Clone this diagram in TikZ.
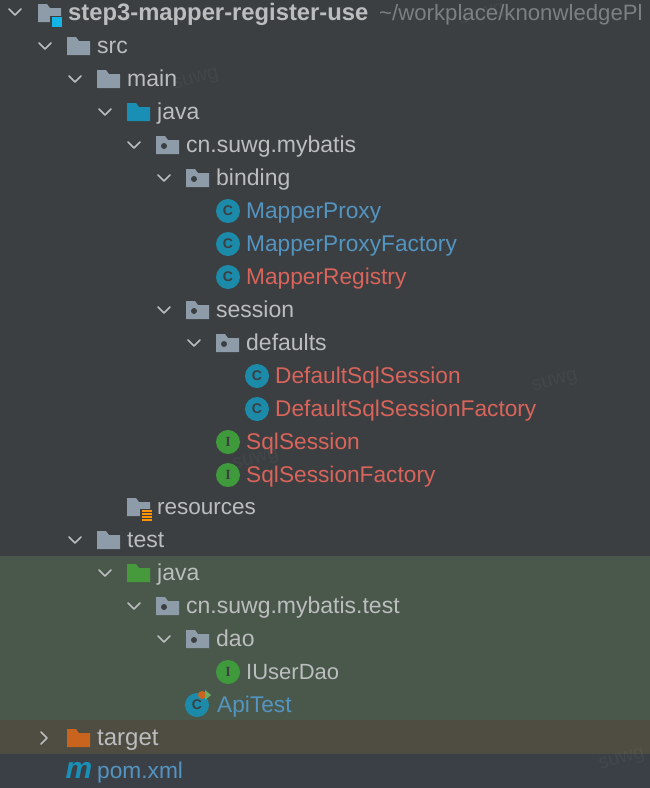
\documentclass[tikz,border=0pt]{standalone}
\usepackage{fontspec}
\setmainfont{Liberation Sans}
\newfontfamily\serifletter{Liberation Serif}
\definecolor{panelbg}{HTML}{3C3F41}
\definecolor{testbg}{HTML}{4A584C}
\definecolor{targetbg}{HTML}{4F4C42}
\definecolor{pombg}{HTML}{3B4047}
\definecolor{plaintext}{HTML}{BBBDBE}
\definecolor{bluetext}{HTML}{5394C0}
\definecolor{redtext}{HTML}{D9645B}
\definecolor{pathtext}{HTML}{7D8082}
\definecolor{foldergrey}{HTML}{8D9CA8}
\definecolor{foldercyan}{HTML}{1A8FB5}
\definecolor{foldergreen}{HTML}{469A3C}
\definecolor{folderorange}{HTML}{C8641E}
\definecolor{classteal}{HTML}{1C8BAA}
\definecolor{ifacegreen}{HTML}{3F9A3C}
\definecolor{modulecyan}{HTML}{12B5E6}
\tikzset{
  treetext/.style={anchor=base west, inner sep=0pt, yshift=1pt, font=\fontsize{23}{26}\selectfont, text=plaintext},
  bluelabel/.style={treetext, font=\fontsize{22.7}{26}\selectfont, text=bluetext},
  redlabel/.style={treetext, font=\fontsize{22.7}{26}\selectfont, text=redtext},
  chevron/.style={draw=plaintext, line width=1.5pt, line cap=round, line join=round},
  iconletter/.style={inner sep=0pt, font=\fontsize{14}{14}\selectfont\bfseries, text=panelbg},
  watermark/.style={inner sep=0pt, rotate=15, font=\fontsize{20}{20}\selectfont, text=white, opacity=0.04}
}
% tree pieces, x and row centre in pixels
\newcommand{\chevdown}[2]{\draw[chevron] (#1-6,#2-3)--(#1,#2+3)--(#1+6,#2-3);}
\newcommand{\chevright}[2]{\draw[chevron] (#1-3,#2-6)--(#1+3,#2)--(#1-3,#2+6);}
\newcommand{\foldericon}[3]{\fill[#3] (#1,#2-9)--(#1+9,#2-9)--(#1+12,#2-5)--(#1+23,#2-5)--(#1+23,#2+9)--(#1,#2+9)--cycle;}
\newcommand{\packageicon}[2]{\foldericon{#1}{#2}{foldergrey}\fill[panelbg] (#1+8,#2+1) circle (3);}
\newcommand{\classicon}[3]{\fill[classteal] (#1,#2) circle (12);\node[iconletter] (#3) at (#1,#2) {C};}
\newcommand{\ifaceicon}[3]{\fill[ifacegreen] (#1,#2) circle (12);\node[iconletter, font=\fontsize{14}{14}\selectfont\serifletter\bfseries] (#3) at (#1,#2) {I};}
\begin{document}
\begin{tikzpicture}[x=1pt,y=-1pt]
  \fill[panelbg] (0,0) rectangle (650,788);
  \fill[testbg] (0,556) rectangle (650,720);
  \fill[targetbg] (0,720) rectangle (650,754);
  \fill[pombg] (0,754) rectangle (650,788);
  \useasboundingbox (0,0) rectangle (650,788);

  % faint marks over the panel
  \node[watermark] (markone) at (196,80) {suwg};
  \node[watermark] (marktwo) at (555,382) {suwg};
  \node[watermark] (markthree) at (256,460) {suwg};
  \node[watermark] (markfour) at (622,760) {suwg};
  \node[watermark] (markfive) at (482,15) {suwg};

  % project row
  \chevdown{15}{12}
  \foldericon{38}{13}{foldergrey}
  \fill[panelbg] (50,16) rectangle (63,28);
  \fill[modulecyan] (52,17) rectangle (62,27);
  \node[treetext, font=\fontsize{23.8}{26}\selectfont\bfseries] (projectlabel) at (68,21) {step3-mapper-register-use};
  \node[treetext, font=\fontsize{22.2}{26}\selectfont, text=pathtext] (pathlabel) at (379,21) {\textasciitilde/workplace/knonwledgePl};

  % main sources
  \chevdown{45}{46}
  \foldericon{67}{46}{foldergrey}
  \node[treetext] (srclabel) at (97,54) {src};
  \chevdown{75}{79}
  \foldericon{97}{79}{foldergrey}
  \node[treetext] (mainlabel) at (127,87) {main};
  \chevdown{105}{112}
  \foldericon{127}{112}{foldercyan}
  \node[treetext] (javalabel) at (157,120) {java};
  \chevdown{134}{145}
  \packageicon{156}{145}
  \node[treetext] (cnlabel) at (186,153) {cn.suwg.mybatis};
  \chevdown{164}{178}
  \packageicon{186}{178}
  \node[treetext] (bindinglabel) at (216,186) {binding};
  \classicon{228}{211}{proxyicon}
  \node[bluelabel] (proxylabel) at (246,219) {MapperProxy};
  \classicon{228}{244}{factoryicon}
  \node[bluelabel] (factorylabel) at (246,252) {MapperProxyFactory};
  \classicon{228}{277}{registryicon}
  \node[redlabel] (registrylabel) at (246,285) {MapperRegistry};
  \chevdown{164}{310}
  \packageicon{186}{310}
  \node[treetext] (sessionlabel) at (216,318) {session};
  \chevdown{194}{343}
  \packageicon{216}{343}
  \node[treetext] (defaultslabel) at (246,351) {defaults};
  \classicon{257}{376}{defsessionicon}
  \node[redlabel] (defsessionlabel) at (275,384) {DefaultSqlSession};
  \classicon{257}{409}{deffactoryicon}
  \node[redlabel] (deffactorylabel) at (275,417) {DefaultSqlSessionFactory};
  \ifaceicon{228}{442}{sqlsessionicon}
  \node[redlabel] (sqlsessionlabel) at (246,450) {SqlSession};
  \ifaceicon{228}{475}{sqlfactoryicon}
  \node[redlabel] (sqlfactorylabel) at (246,483) {SqlSessionFactory};
  \foldericon{127}{507}{foldergrey}
  \fill[panelbg] (140,509) rectangle (153,522);
  \foreach \liney in {511,514,517,520} \draw[orange!85!yellow, line width=1.3pt] (142,\liney)--(152,\liney);
  \node[treetext, font=\fontsize{22.5}{26}\selectfont] (resourceslabel) at (157,515) {resources};

  % test sources
  \chevdown{75}{540}
  \foldericon{97}{540}{foldergrey}
  \node[treetext] (testlabel) at (127,548) {test};
  \chevdown{105}{573}
  \foldericon{127}{573}{foldergreen}
  \node[treetext] (testjavalabel) at (157,581) {java};
  \chevdown{134}{606}
  \packageicon{156}{606}
  \node[treetext] (testcnlabel) at (186,614) {cn.suwg.mybatis.test};
  \chevdown{164}{639}
  \packageicon{186}{639}
  \node[treetext] (daolabel) at (216,647) {dao};
  \ifaceicon{228}{672}{usericon}
  \node[treetext, font=\fontsize{22}{26}\selectfont] (userlabel) at (246,680) {IUserDao};
  \classicon{197}{705}{apiicon}
  \fill[folderorange] (202,695) circle (4);
  \fill[foldergreen!80!white] (205,690)--(211,695)--(205,700)--cycle;
  \node[bluelabel] (apilabel) at (217,713) {ApiTest};

  % target and pom
  \chevright{44}{738}
  \foldericon{67}{738}{folderorange}
  \node[treetext, font=\fontsize{24}{26}\selectfont] (targetlabel) at (97,746) {target};
  \node[inner sep=0pt, font=\fontsize{30}{30}\selectfont\bfseries\itshape, text=foldercyan, anchor=base] (mavenicon) at (79,778) {m};
  \node[bluelabel] (pomlabel) at (97,779) {pom.xml};
\end{tikzpicture}
\end{document}
